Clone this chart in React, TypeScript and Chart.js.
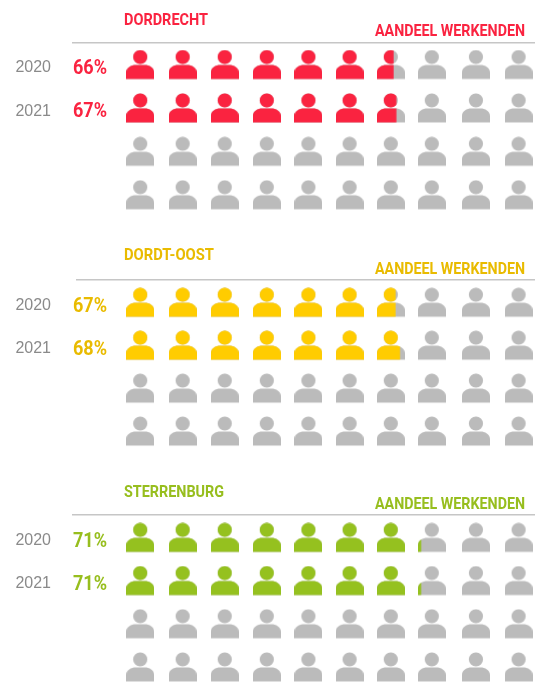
import React, { useEffect, useRef } from "react";
import { Chart, registerables } from "chart.js";

Chart.register(...registerables);

const years = ["2020", "2021"];
const columns = [1, 2, 3, 4, 5, 6, 7, 8, 9, 10];
const rows = [1, 2, 3, 4];
const perIcon = 10;
const subtitle = "AANDEEL WERKENDEN";

const dordrechtShares = [66, 67];
const dordtOostShares = [66.7, 68.3];
const sterrenburgShares = [71.2, 71.2];

const GRAY = "#bbbbbb";
const BOLD = "'Roboto', 'Liberation Sans', sans-serif";
const SANS = "'Liberation Sans', sans-serif";

const ROW_STEP = 43.4;
const COL_STEP = 42.05;
const CANVAS_H = 220;
// The source grid is slightly uneven: a small per-column shift, in column units.
const COLUMN_NUDGE = [0, 0.01, 0.01, 0.01, 0, -0.02, -0.04, -0.065, -0.015, 0];

const blocks = [
  { name: "DORDRECHT", nameWidth: 84, shares: dordrechtShares, color: "#fa2340", text: "#fa2340", top: 0, rule: 43, left: 73, rowOffset: 25, nameY: 22, subY: 11 },
  { name: "DORDT-OOST", nameWidth: 90, shares: dordtOostShares, color: "#ffcc00", text: "#e9bb00", top: 236, rule: 44, left: 77, rowOffset: 26, nameY: 24.5, subY: 10 },
  { name: "STERRENBURG", nameWidth: 100, shares: sterrenburgShares, color: "#95c11f", text: "#97be1e", top: 472, rule: 43, left: 73, rowOffset: 26, nameY: 22.5, subY: 10 },
];

const ICON_W = 28;
const ICON_H = 37;
const cache = new Map<string, HTMLCanvasElement>();

function personPath(c: CanvasRenderingContext2D) {
  c.beginPath();
  c.arc(14, 7.5, 7.1, 0, Math.PI * 2);
  c.closePath();
  c.moveTo(0, 29.5);
  c.lineTo(0, 23);
  c.bezierCurveTo(0, 18, 5, 15.5, 9.5, 15.5);
  c.lineTo(18.5, 15.5);
  c.bezierCurveTo(23, 15.5, 28, 18, 28, 23);
  c.lineTo(28, 29.5);
  c.closePath();
}

function personIcon(color: string, frac: number) {
  const key = color + frac;
  const hit = cache.get(key);
  if (hit) return hit;
  const cv = document.createElement("canvas");
  cv.width = ICON_W;
  cv.height = ICON_H;
  const c = cv.getContext("2d")!;
  personPath(c);
  c.fillStyle = GRAY;
  c.fill();
  if (frac > 0) {
    c.save();
    c.beginPath();
    c.rect(0, 0, ICON_W * frac, ICON_H);
    c.clip();
    personPath(c);
    c.fillStyle = color;
    c.fill();
    c.restore();
  }
  cache.set(key, cv);
  return cv;
}

function Block({ block }: { block: (typeof blocks)[number] }) {
  const ref = useRef<HTMLCanvasElement>(null);
  useEffect(() => {
    const points = rows.flatMap((r) =>
      columns.map((c) => {
        const share = block.shares[r - 1] ?? 0;
        const frac = Math.max(0, Math.min(1, share / perIcon - (c - 1)));
        return { x: c + COLUMN_NUDGE[c - 1], y: r, frac };
      })
    );
    const yMin = 1 - block.rowOffset / ROW_STEP;
    const yMax = 4.5;
    const bottomPad = CANVAS_H - block.rule - (yMax - yMin) * ROW_STEP;
    const chart = new Chart(ref.current!, {
      type: "scatter",
      data: {
        datasets: [
          {
            data: points as any,
            clip: false as any,
            pointRadius: 14,
            pointHoverRadius: 14,
            pointStyle: (ctx: any) => personIcon(block.color, ctx.raw?.frac ?? 0),
          },
        ],
      },
      options: {
        animation: false,
        responsive: false,
        events: [],
        layout: { autoPadding: false, padding: { top: block.rule, left: 0, right: 0, bottom: bottomPad } },
        plugins: { legend: { display: false }, tooltip: { enabled: false } },
        scales: {
          x: {
            type: "linear",
            position: "top",
            min: 0.5 - (119.2 - block.left) / COL_STEP,
            max: 10.39,
            afterFit: (s: any) => {
              s.height = 0;
              s.paddingLeft = 0;
              s.paddingRight = 0;
            },
            grid: { display: false, drawTicks: false },
            ticks: { display: false },
            border: { display: true, color: "#c6c6c6", width: 1.5 },
          },
          y: {
            type: "linear",
            position: "left",
            reverse: true,
            min: yMin,
            max: yMax,
            afterFit: (s: any) => {
              s.width = block.left;
              s.paddingTop = 0;
              s.paddingBottom = 0;
            },
            afterBuildTicks: (s: any) => {
              s.ticks = rows.map((value) => ({ value }));
            },
            grid: { display: false, drawTicks: false },
            border: { display: false },
            ticks: {
              autoSkip: false,
              padding: 22 + (block.left - 73),
              color: "#8a8a8a",
              font: { family: SANS, size: 16 },
              callback: (v: any) => years[Number(v) - 1] ?? "",
            },
          },
        },
      } as any,
      plugins: [
        {
          id: "blockTexts",
          afterDraw(ch: any) {
            const c = ch.ctx;
            const top = ch.chartArea.top;
            c.save();
            c.fillStyle = block.text;
            c.textBaseline = "middle";
            c.textAlign = "left";
            c.font = `bold 16px ${BOLD}`;
            c.fillText(block.name, 124, top - block.nameY, block.nameWidth);
            c.textAlign = "right";
            c.fillText(subtitle, 525, top - block.subY, 150);
            c.textAlign = "left";
            c.font = `bold 20px ${BOLD}`;
            block.shares.forEach((s, i) => {
              c.fillText(`${Math.round(s)}%`, 73, ch.scales.y.getPixelForValue(i + 1) + 1, 34);
            });
            c.restore();
          },
        },
      ],
    });
    return () => chart.destroy();
  }, [block]);
  return (
    <canvas
      ref={ref}
      width={535}
      height={CANVAS_H}
      style={{ position: "absolute", left: 0, top: block.top, display: "block" }}
    />
  );
}

export default function App() {
  return (
    <div
      style={{
        position: "absolute",
        left: 0,
        top: 0,
        width: 535,
        height: 682,
        overflow: "hidden",
        background: "#ffffff",
      }}
    >
      {blocks.map((b) => (
        <Block key={b.name} block={b} />
      ))}
    </div>
  );
}
